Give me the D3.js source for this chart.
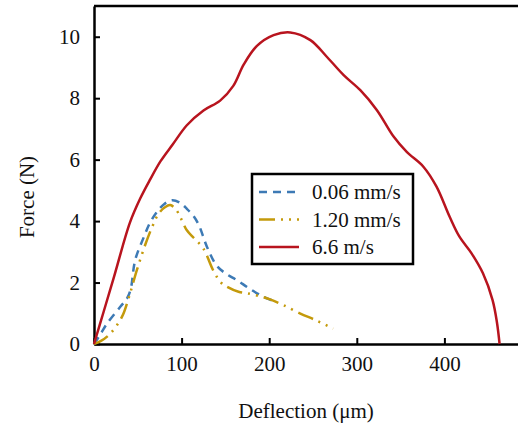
<!DOCTYPE html>
<html>
<head>
<meta charset="utf-8">
<script src="https://cdn.jsdelivr.net/npm/d3@7"></script>
<style>
  body { margin: 0; background: #fff; }
  svg text { font-family: 'Liberation Serif', 'Times New Roman', Tinos, 'DejaVu Serif', serif !important; }
</style>
</head>
<body>
<div class="canvas"></div>
<script>
// series data: [deflection (um), force (N)]
const slowSeries = [[0,0],[7,0.3],[15,0.67],[30,1.21],[38,1.5],[42,1.8],[47,2.73],[57,3.49],[64,3.95],[72,4.3],[80,4.55],[89,4.68],[98,4.6],[106,4.4],[114,4.15],[120,3.85],[129,3.16],[140,2.55],[150,2.3],[163,2.08],[175,1.85],[186,1.65],[196,1.5],[205,1.4]]
const midSeries = [[0,0],[8,0.1],[19,0.35],[32,0.89],[40,1.54],[49,2.41],[59,3.27],[67,3.85],[74,4.25],[81,4.45],[87,4.52],[93,4.4],[99,4.1],[106,3.7],[114,3.45],[125,3.1],[136,2.4],[145,2.0],[152,1.86],[165,1.7],[175,1.65],[190,1.55],[201,1.45],[215,1.28],[235,1.0],[255,0.75],[273,0.5]]
const fastSeries = [[0,0],[11,1.05],[23,2.2],[41,3.95],[53,4.75],[64,5.35],[76,5.95],[90,6.5],[106,7.12],[125,7.6],[144,7.92],[159,8.4],[171,9.1],[186,9.7],[205,10.05],[224,10.14],[247,9.89],[266,9.34],[285,8.75],[304,8.26],[323,7.61],[342,6.75],[357,6.25],[376,5.77],[391,5.12],[406,4.14],[417,3.5],[431,2.95],[444,2.3],[455,1.43],[460,0.7],[463,0]]

const seriesNames = ["0.06 mm/s", "1.20 mm/s", "6.6 m/s"]
const xTicks = [0, 100, 200, 300, 400]
const yTicks = [0, 2, 4, 6, 8, 10]
const serif = "'Liberation Serif', 'Times New Roman', Tinos, 'DejaVu Serif', serif"

/**
 * Graph dimensions
 */
const width = 518, height = 436
const margin = {top: 6, right: -14, bottom: 92, left: 94}
const graphWidth = width - margin.left - margin.right
const graphHeight = height - margin.top - margin.bottom

const svg = d3.select(".canvas")
    .append("svg")
    .attr("width", width)
    .attr("height", height)
    .attr("font-family", serif)

const graph = svg.append("g")
    .attr("transform", `translate(${margin.left},${margin.top})`)

/**
 * Scales & axes
 */
const x = d3.scaleLinear().domain([0, 500]).range([0, graphWidth])
const y = d3.scaleLinear().domain([0, 11]).range([graphHeight, 0])

const xAxis = d3.axisBottom(x).tickValues(xTicks).tickSizeInner(-6).tickSizeOuter(0).tickPadding(12)
const yAxis = d3.axisLeft(y).tickValues(yTicks).tickSizeInner(-6).tickSizeOuter(0).tickPadding(14)

const xAxisGroup = graph.append("g")
    .attr("transform", `translate(0, ${graphHeight})`)
    .call(xAxis)
const yAxisGroup = graph.append("g").call(yAxis)

;[xAxisGroup, yAxisGroup].forEach(g => {
    g.attr("font-family", serif).attr("font-size", 21)
    g.select(".domain").attr("stroke", "#000").attr("stroke-width", 2.5)
    g.selectAll(".tick line").attr("stroke", "#000").attr("stroke-width", 2)
    g.selectAll(".tick text").attr("fill", "#111")
})

// top frame line
graph.append("line")
    .attr("x1", 0).attr("x2", graphWidth)
    .attr("y1", 0).attr("y2", 0)
    .attr("stroke", "#000").attr("stroke-width", 2.5)

/**
 * Lines
 */
const line = d3.line()
    .x(d => x(d[0]))
    .y(d => y(d[1]))
    .curve(d3.curveCatmullRom.alpha(0.5))

const styles = [
    {color: "#3d7ab5", dash: "8,6"},
    {color: "#c49a0b", dash: "16,6,2,6,2,6"},
    {color: "#b8141e", dash: null}
]
const allSeries = [slowSeries, midSeries, fastSeries]

allSeries.forEach((s, i) => {
    graph.append("path")
        .datum(s)
        .attr("fill", "none")
        .attr("stroke", styles[i].color)
        .attr("stroke-width", 2.5)
        .attr("stroke-dasharray", styles[i].dash)
        .attr("d", line)
})

/**
 * Legend
 */
const legend = svg.append("g").attr("transform", "translate(252,174)")
legend.append("rect")
    .attr("width", 161).attr("height", 90)
    .attr("fill", "#fff").attr("stroke", "#000").attr("stroke-width", 2.5)

seriesNames.forEach((name, i) => {
    const ly = 18 + i * 27.5
    legend.append("line")
        .attr("x1", 7).attr("x2", 47)
        .attr("y1", ly).attr("y2", ly)
        .attr("stroke", styles[i].color)
        .attr("stroke-width", 2.5)
        .attr("stroke-dasharray", styles[i].dash)
    legend.append("text")
        .attr("x", 60).attr("y", ly + 7)
        .attr("fill", "#111")
        .attr("font-size", 21)
        .text(name)
})

/**
 * Axis titles
 */
svg.append("text")
    .attr("x", 306).attr("y", 418)
    .attr("text-anchor", "middle")
    .attr("fill", "#111")
    .attr("font-size", 21)
    .text("Deflection (μm)")

svg.append("text")
    .attr("transform", "translate(34,197) rotate(-90)")
    .attr("text-anchor", "middle")
    .attr("fill", "#111")
    .attr("font-size", 21)
    .text("Force (N)")
</script>
</body>
</html>
